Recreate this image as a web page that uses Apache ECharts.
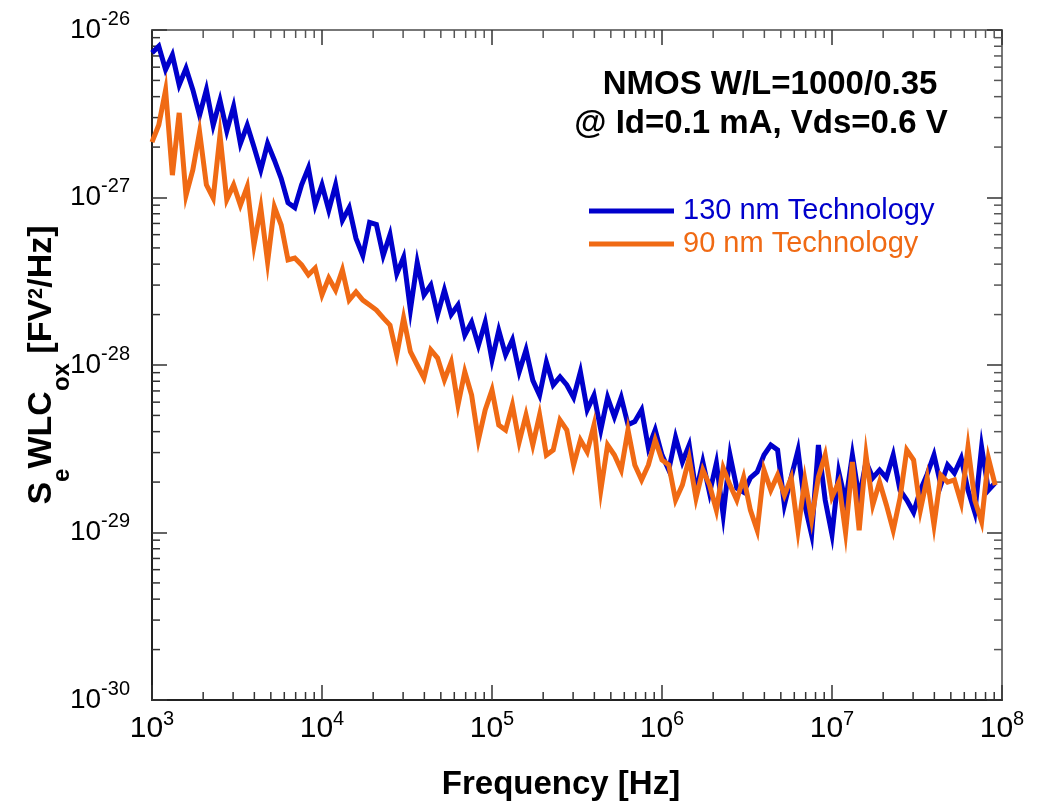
<!DOCTYPE html>
<html>
<head>
<meta charset="utf-8">
<script src="https://cdn.jsdelivr.net/npm/echarts@6/dist/echarts.min.js"></script>
<style>
html, body { margin: 0; padding: 0; background: #fff; }
#chart { width: 1039px; height: 803px; }
</style>
</head>
<body>
<div id="chart"></div>
<script>
// frequency grid [Hz]
var freq = [
    1000, 1096, 1202, 1318, 1445, 1585, 1738, 1905, 2089, 2291, 2512, 2754, 3020, 3311, 3631, 3981, 4365, 4786, 5248, 5754, 6310, 6918, 7586, 8318, 9120,
    1e4, 1.096e4, 1.202e4, 1.318e4, 1.445e4, 1.585e4, 1.738e4, 1.905e4, 2.089e4, 2.291e4, 2.512e4, 2.754e4, 3.02e4, 3.311e4, 3.631e4, 3.981e4, 4.365e4, 4.786e4, 5.248e4, 5.754e4, 6.31e4, 6.918e4, 7.586e4, 8.318e4, 9.12e4,
    1e5, 1.096e5, 1.202e5, 1.318e5, 1.445e5, 1.585e5, 1.738e5, 1.905e5, 2.089e5, 2.291e5, 2.512e5, 2.754e5, 3.02e5, 3.311e5, 3.631e5, 3.981e5, 4.365e5, 4.786e5, 5.248e5, 5.754e5, 6.31e5, 6.918e5, 7.586e5, 8.318e5, 9.12e5,
    1e6, 1.096e6, 1.202e6, 1.318e6, 1.445e6, 1.585e6, 1.738e6, 1.905e6, 2.089e6, 2.291e6, 2.512e6, 2.754e6, 3.02e6, 3.311e6, 3.631e6, 3.981e6, 4.365e6, 4.786e6, 5.248e6, 5.754e6, 6.31e6, 6.918e6, 7.586e6, 8.318e6, 9.12e6,
    1e7, 1.096e7, 1.202e7, 1.318e7, 1.445e7, 1.585e7, 1.738e7, 1.905e7, 2.089e7, 2.291e7, 2.512e7, 2.754e7, 3.02e7, 3.311e7, 3.631e7, 3.981e7, 4.365e7, 4.786e7, 5.248e7, 5.754e7, 6.31e7, 6.918e7, 7.586e7, 8.318e7, 9.12e7
];
// 130 nm  [FV^2/Hz]
var s130 = [
    7.3e-27, 8.0e-27, 5.8e-27, 7.1e-27, 4.7e-27, 5.9e-27, 4.4e-27, 3.1e-27, 4.4e-27, 2.7e-27, 3.8e-27, 2.5e-27, 3.5e-27, 2.1e-27, 2.7e-27, 2.0e-27, 1.46e-27, 2.1e-27, 1.67e-27, 1.3e-27, 9.3e-28, 8.7e-28, 1.19e-27, 1.5e-27, 9.0e-28,
    1.19e-27, 8.4e-28, 1.19e-27, 7.3e-28, 8.7e-28, 5.7e-28, 4.5e-28, 7.1e-28, 6.9e-28, 4.5e-28, 6.0e-28, 3.5e-28, 4.4e-28, 2.13e-28, 4.1e-28, 2.62e-28, 3.0e-28, 2.0e-28, 2.8e-28, 2.0e-28, 2.28e-28, 1.51e-28, 1.8e-28, 1.31e-28, 1.8e-28,
    1.07e-28, 1.61e-28, 1.15e-28, 1.41e-28, 9.1e-29, 1.23e-28, 8.1e-29, 6.6e-29, 1.04e-28, 7.6e-29, 8.5e-29, 7.6e-29, 6.4e-29, 9.1e-29, 5.4e-29, 6.6e-29, 4.1e-29, 6.4e-29, 4.9e-29, 6.4e-29, 4.4e-29, 4.6e-29, 5.4e-29, 3.2e-29, 4.1e-29,
    2.9e-29, 2.36e-29, 3.7e-29, 2.64e-29, 3.33e-29, 1.74e-29, 2.64e-29, 1.72e-29, 2.6e-29, 1.27e-29, 2.9e-29, 1.84e-29, 1.74e-29, 2.12e-29, 2.3e-29, 2.9e-29, 3.33e-29, 3.11e-29, 1.46e-29, 2.14e-29, 3.1e-29, 1.46e-29, 9.7e-30, 3.33e-29, 1.56e-29,
    9.7e-30, 2.3e-29, 1.52e-29, 2.9e-29, 1.6e-29, 2.64e-29, 2.12e-29, 2.36e-29, 2.12e-29, 2.9e-29, 1.79e-29, 1.56e-29, 1.32e-29, 1.79e-29, 2.23e-29, 2.9e-29, 1.92e-29, 2.53e-29, 2.26e-29, 2.78e-29, 1.79e-29, 1.32e-29, 3.24e-29, 1.79e-29, 1.98e-29
];
// 90 nm  [FV^2/Hz]
var s90 = [
    2.14e-27, 2.71e-27, 4.38e-27, 1.36e-27, 3.2e-27, 1.03e-27, 1.46e-27, 2.46e-27, 1.19e-27, 9.9e-28, 2.36e-27, 9.7e-28, 1.19e-27, 9.0e-28, 1.16e-27, 5.2e-28, 8.7e-28, 4.12e-28, 8.78e-28, 6.85e-28, 4.24e-28, 4.35e-28, 3.96e-28, 3.45e-28, 3.79e-28,
    2.62e-28, 3.31e-28, 2.8e-28, 3.69e-28, 2.44e-28, 2.73e-28, 2.44e-28, 2.28e-28, 2.13e-28, 1.91e-28, 1.73e-28, 1.15e-28, 1.91e-28, 1.2e-28, 1.0e-28, 8.37e-29, 1.23e-28, 1.1e-28, 8.14e-29, 1.04e-28, 5.77e-29, 9.1e-29, 6.62e-29, 3.57e-29, 5.39e-29,
    7.09e-29, 4.38e-29, 4.09e-29, 5.77e-29, 3.47e-29, 5.03e-29, 3.33e-29, 5.03e-29, 2.9e-29, 3.11e-29, 4.69e-29, 4.09e-29, 2.53e-29, 3.57e-29, 3.03e-29, 4.38e-29, 1.79e-29, 3.33e-29, 2.9e-29, 2.36e-29, 4.09e-29, 2.53e-29, 2.06e-29, 2.53e-29, 3.57e-29,
    2.71e-29, 2.53e-29, 1.56e-29, 1.92e-29, 2.78e-29, 1.6e-29, 2.36e-29, 1.92e-29, 1.36e-29, 2.43e-29, 1.92e-29, 1.56e-29, 2.14e-29, 1.36e-29, 1.03e-29, 2.36e-29, 1.79e-29, 2.2e-29, 1.67e-29, 2.12e-29, 1.03e-29, 2.06e-29, 1.19e-29, 2.14e-29, 2.9e-29,
    1.63e-29, 2.0e-29, 1.0e-29, 2.64e-29, 1.03e-29, 2.9e-29, 1.46e-29, 2.0e-29, 1.46e-29, 1.03e-29, 1.6e-29, 3.11e-29, 2.71e-29, 1.36e-29, 2.12e-29, 1.11e-29, 2.2e-29, 2.0e-29, 2.06e-29, 1.5e-29, 3.24e-29, 1.56e-29, 1.16e-29, 2.78e-29, 1.92e-29
];
var names = ['130 nm Technology', '90 nm Technology'];
var colors = ['#0000cc', '#f06a14'];
// decade exponents for tick labels
var xExp = [3, 4, 5, 6, 7, 8];
var yExp = [-30, -29, -28, -27, -26];
var minorMult = [2, 3, 4, 5, 6, 7, 8, 9];

// the log axis is fed in units of 1e-30 FV^2/Hz (tiny magnitudes upset the scale)
var Y_UNIT_EXP = -30;
var yUnit = Math.pow(10, Y_UNIT_EXP);

var FONT = '"Liberation Sans", Arial, sans-serif';

// minor tick positions (2..9 x 10^n)
var minorX = [];
for (var i = 0; i < xExp.length - 1; i++) {
    for (var j = 0; j < minorMult.length; j++) {
        minorX.push([minorMult[j] * Math.pow(10, xExp[i]), 100]);
    }
}
var minorY = [];
for (var i = 0; i < yExp.length - 1; i++) {
    for (var j = 0; j < minorMult.length; j++) {
        minorY.push([1e4, minorMult[j] * Math.pow(10, yExp[i] - Y_UNIT_EXP)]);
    }
}

function pairs(ys) {
    var out = [];
    for (var i = 0; i < ys.length; i++) {
        out.push([freq[i], ys[i] / yUnit]);
    }
    return out;
}

function xLabel(v) {
    return '{b|10}{s|' + Math.round(Math.log10(v)) + '}';
}
function yLabel(v) {
    return '{b|10}{s|' + (Math.round(Math.log10(v)) + Y_UNIT_EXP) + '}';
}

var tickStyle = { color: '#333', width: 1.5 };

var myChart = echarts.init(document.getElementById('chart'));
var option = {
    animation: false,
    backgroundColor: '#fff',
    grid: { left: 152, top: 30, width: 850, height: 670 },
    legend: {
        orient: 'vertical',
        left: 584,
        top: 191,
        itemWidth: 85,
        itemHeight: 5,
        itemGap: 3,
        icon: 'rect',
        selectedMode: false,
        textStyle: { fontSize: 29, fontFamily: FONT, lineHeight: 30, padding: [0, 0, 0, 4] },
        data: [
            { name: names[0], textStyle: { color: colors[0] } },
            { name: names[1], textStyle: { color: colors[1] } }
        ]
    },
    xAxis: [
        {
            type: 'log', logBase: 10, min: 1e3, max: 1e8, position: 'bottom',
            axisLine: { lineStyle: { color: '#222', width: 2 } },
            axisTick: { inside: true, length: 15, lineStyle: tickStyle },
            splitLine: { show: false },
            axisLabel: {
                margin: 14, color: '#000', formatter: xLabel,
                rich: {
                    b: { fontSize: 30, lineHeight: 30, fontFamily: FONT, color: '#000' },
                    s: { fontSize: 20, lineHeight: 30, fontFamily: FONT, color: '#000', padding: [0, 0, 20, 0] }
                }
            }
        },
        {
            type: 'log', logBase: 10, min: 1e3, max: 1e8, position: 'top',
            axisLine: { lineStyle: { color: '#777', width: 2 } },
            axisTick: { inside: true, length: 15, lineStyle: tickStyle },
            splitLine: { show: false },
            axisLabel: { show: false }
        }
    ],
    yAxis: [
        {
            type: 'log', logBase: 10, min: 1, max: 1e4, position: 'left',
            axisLine: { lineStyle: { color: '#222', width: 2 } },
            axisTick: { inside: true, length: 15, lineStyle: tickStyle },
            splitLine: { show: false },
            axisLabel: {
                margin: 22, color: '#000', formatter: yLabel,
                rich: {
                    b: { fontSize: 28, lineHeight: 30, fontFamily: FONT, color: '#000' },
                    s: { fontSize: 20, lineHeight: 30, fontFamily: FONT, color: '#000', padding: [0, 0, 22, 0] }
                }
            }
        },
        {
            type: 'log', logBase: 10, min: 1, max: 1e4, position: 'right',
            axisLine: { lineStyle: { color: '#777', width: 2 } },
            axisTick: { inside: true, length: 15, lineStyle: tickStyle },
            splitLine: { show: false },
            axisLabel: { show: false }
        }
    ],
    graphic: [
        {
            type: 'text', x: 770, y: 85,
            style: { text: 'NMOS W/L=1000/0.35', font: 'bold 33px ' + FONT, fill: '#000', align: 'center', verticalAlign: 'middle' }
        },
        {
            type: 'text', x: 761, y: 124,
            style: { text: '@ Id=0.1 mA, Vds=0.6 V', font: 'bold 33px ' + FONT, fill: '#000', align: 'center', verticalAlign: 'middle' }
        },
        {
            type: 'text', x: 561, y: 785,
            style: { text: 'Frequency [Hz]', font: 'bold 33px ' + FONT, fill: '#000', align: 'center', verticalAlign: 'middle' }
        },
        {
            // y axis title, rotated
            type: 'text', x: 42, y: 365, rotation: Math.PI / 2,
            style: {
                text: '{m|S}{sb|e}{m|WLC}{sb|ox}{m| [FV}{sp|2}{m|/Hz]}',
                align: 'center', verticalAlign: 'middle', fill: '#000',
                rich: {
                    m: { fontSize: 34, fontWeight: 'bold', fontFamily: FONT, lineHeight: 40 },
                    sb: { fontSize: 24, fontWeight: 'bold', fontFamily: FONT, lineHeight: 40, padding: [40, 0, 0, 0] },
                    sp: { fontSize: 20, fontWeight: 'bold', fontFamily: FONT, lineHeight: 40, padding: [0, 0, 12, 0] }
                }
            }
        }
    ],
    series: [
        {
            type: 'custom',
            silent: true,
            xAxisIndex: 0, yAxisIndex: 0,
            data: minorX,
            renderItem: function (params, api) {
                var cs = params.coordSys;
                var px = api.coord([api.value(0), api.value(1)])[0];
                var b = cs.y + cs.height;
                return {
                    type: 'group',
                    children: [
                        { type: 'line', shape: { x1: px, y1: b, x2: px, y2: b - 8 }, style: { stroke: '#333', lineWidth: 1.5 } },
                        { type: 'line', shape: { x1: px, y1: cs.y, x2: px, y2: cs.y + 8 }, style: { stroke: '#555', lineWidth: 1.5 } }
                    ]
                };
            }
        },
        {
            type: 'custom',
            silent: true,
            xAxisIndex: 0, yAxisIndex: 0,
            data: minorY,
            renderItem: function (params, api) {
                var cs = params.coordSys;
                var py = api.coord([api.value(0), api.value(1)])[1];
                var r = cs.x + cs.width;
                return {
                    type: 'group',
                    children: [
                        { type: 'line', shape: { x1: cs.x, y1: py, x2: cs.x + 8, y2: py }, style: { stroke: '#333', lineWidth: 1.5 } },
                        { type: 'line', shape: { x1: r, y1: py, x2: r - 8, y2: py }, style: { stroke: '#555', lineWidth: 1.5 } }
                    ]
                };
            }
        },
        {
            name: names[0],
            type: 'line',
            showSymbol: false,
            color: colors[0],
            lineStyle: { color: colors[0], width: 5, join: 'miter' },
            data: pairs(s130)
        },
        {
            name: names[1],
            type: 'line',
            showSymbol: false,
            color: colors[1],
            lineStyle: { color: colors[1], width: 5, join: 'miter' },
            data: pairs(s90)
        }
    ]
};
myChart.setOption(option);
</script>
</body>
</html>
